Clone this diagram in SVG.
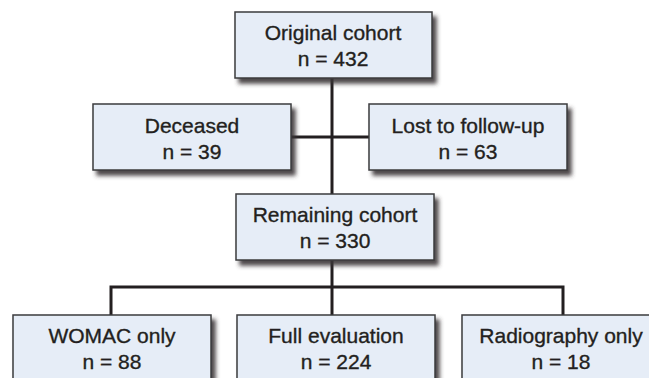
<svg xmlns="http://www.w3.org/2000/svg" width="649" height="378" viewBox="0 0 649 378">
<defs>
<filter id="sh" x="-10%" y="-10%" width="130%" height="140%">
<feGaussianBlur in="SourceAlpha" stdDeviation="2"/>
<feOffset dx="4" dy="5" result="b"/>
<feFlood flood-color="#3a3436" flood-opacity="0.9"/>
<feComposite in2="b" operator="in"/>
<feMerge><feMergeNode/><feMergeNode in="SourceGraphic"/></feMerge>
</filter>
</defs>
<style>
.box{fill:#e6edf7;stroke:#3b3b3d;stroke-width:1.5;filter:url(#sh)}
.t{font-family:"Liberation Sans",Arial,sans-serif;font-size:21px;fill:#231f20;stroke:#231f20;stroke-width:0.35;text-anchor:middle}
.c{stroke:#231f20;stroke-width:3;fill:none}
</style>
<rect width="649" height="378" fill="#ffffff"/>
<g id="connectors">
<line class="c" x1="332" y1="78" x2="332" y2="194"/>
<line class="c" x1="291" y1="137" x2="369" y2="137"/>
<line class="c" x1="332" y1="260" x2="332" y2="315"/>
<polyline class="c" points="111,315 111,287 563,287 563,315"/>
</g>
<g id="original">
<rect class="box" x="235" y="12" width="197" height="66"/>
<text class="t" x="333" y="40">Original cohort</text>
<text class="t" x="333" y="66">n = 432</text>
</g>
<g id="deceased">
<rect class="box" x="93" y="104" width="198" height="66"/>
<text class="t" x="192" y="133">Deceased</text>
<text class="t" x="192" y="159">n = 39</text>
</g>
<g id="lost">
<rect class="box" x="369" y="104" width="198" height="66"/>
<text class="t" x="468" y="133">Lost to follow-up</text>
<text class="t" x="468" y="159">n = 63</text>
</g>
<g id="remaining">
<rect class="box" x="236" y="194" width="198" height="66"/>
<text class="t" x="335" y="222">Remaining cohort</text>
<text class="t" x="335" y="248">n = 330</text>
</g>
<g id="womac">
<rect class="box" x="13" y="315" width="198" height="80"/>
<text class="t" x="112" y="343">WOMAC only</text>
<text class="t" x="112" y="369">n = 88</text>
</g>
<g id="full">
<rect class="box" x="237" y="315" width="198" height="80"/>
<text class="t" x="336" y="343">Full evaluation</text>
<text class="t" x="336" y="369">n = 224</text>
</g>
<g id="radiography">
<rect class="box" x="462" y="315" width="198" height="80"/>
<text class="t" x="561" y="343">Radiography only</text>
<text class="t" x="561" y="369">n = 18</text>
</g>
</svg>
